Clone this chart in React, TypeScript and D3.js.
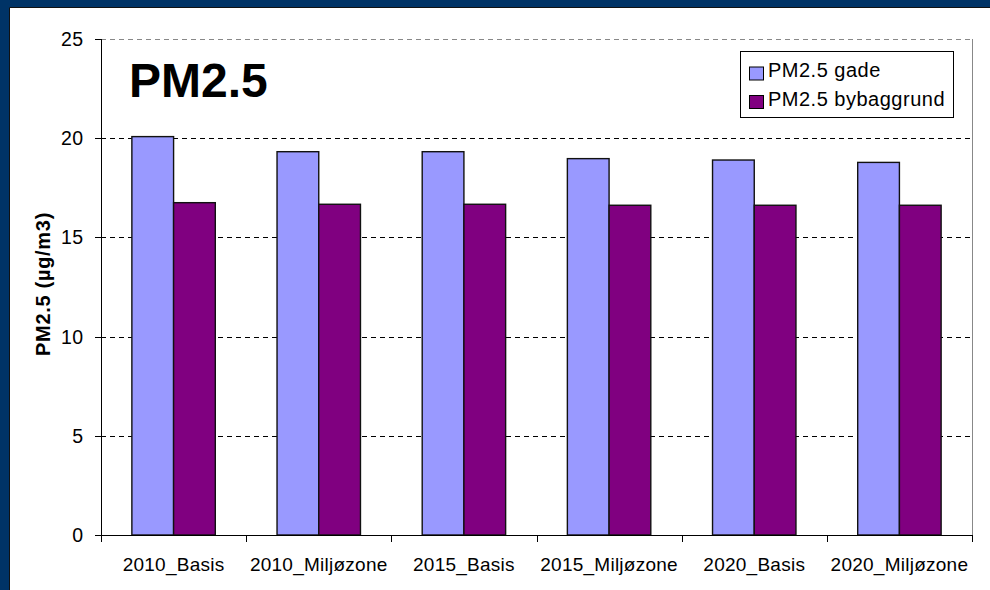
import React from "react";
import * as d3 from "d3";

const categories = ["2010_Basis", "2010_Miljøzone", "2015_Basis", "2015_Miljøzone", "2020_Basis", "2020_Miljøzone"];
const seriesNames = ["PM2.5 gade", "PM2.5 bybaggrund"];
const gade = [20.08, 19.32, 19.32, 18.97, 18.9, 18.78];
const bybaggrund = [16.75, 16.67, 16.67, 16.62, 16.62, 16.62];
const yTicks = [0, 5, 10, 15, 20, 25];
const colors = ["#9999FF", "#800080"];

const W = 990, H = 590;
const plot = { left: 101, right: 972, top: 39, bottom: 535 };
const FONT = "'Liberation Sans', Arial, Helvetica, sans-serif";

export default function App() {
  const x0 = d3.scaleBand<string>().domain(categories).range([plot.left, plot.right]).padding(0);
  const x1 = d3.scaleBand<string>().domain(seriesNames).range([0, x0.bandwidth()]).paddingInner(0).paddingOuter(0.74);
  const y = d3.scaleLinear().domain([0, 25]).range([plot.bottom, plot.top]);
  const values = [gade, bybaggrund];
  const boundaries = categories.map((c) => x0(c) as number).concat([plot.right]);

  return (
    <svg width={W} height={H} style={{ position: "absolute", left: 0, top: 0 }} fontFamily={FONT}>
      <rect x={0} y={0} width={W} height={H} fill="#003366" />
      <rect x={10} y={8} width={W - 10} height={H - 8} fill="#ffffff" />
      <line x1={9.5} y1={8} x2={9.5} y2={H} stroke="#111" strokeWidth={1} />
      <line x1={9.5} y1={7.5} x2={W} y2={7.5} stroke="#111" strokeWidth={1} />

      {/* gridlines */}
      {yTicks.filter((t) => t > 0).map((t) => (
        <line key={"g" + t} x1={plot.left} x2={plot.right} y1={Math.round(y(t)) + 0.5} y2={Math.round(y(t)) + 0.5}
          stroke={t === 25 ? "#888" : "#000"} strokeWidth={1} strokeDasharray="5,4" />
      ))}
      {/* right border */}
      <line x1={plot.right + 0.5} x2={plot.right + 0.5} y1={plot.top} y2={plot.bottom} stroke="#888" strokeWidth={1} />

      {/* bars */}
      {categories.map((c, i) => (
        <g key={c} transform={`translate(${x0(c)},0)`}>
          {seriesNames.map((s, j) => (
            <rect key={s} x={x1(s)} y={y(values[j][i])} width={x1.bandwidth()} height={y(0) - y(values[j][i])}
              fill={colors[j]} stroke="#111" strokeWidth={1.4} />
          ))}
        </g>
      ))}

      {/* axes */}
      <line x1={plot.left + 0.5} x2={plot.left + 0.5} y1={plot.top} y2={plot.bottom} stroke="#000" strokeWidth={1} />
      <line x1={plot.left - 6} x2={plot.right + 1} y1={plot.bottom + 0.5} y2={plot.bottom + 0.5} stroke="#000" strokeWidth={1} />
      {yTicks.map((t) => (
        <g key={"t" + t}>
          <line x1={plot.left - 6} x2={plot.left} y1={Math.round(y(t)) + 0.5} y2={Math.round(y(t)) + 0.5} stroke="#000" />
          <text x={83.5} y={y(t) + 7} textAnchor="end" fontSize={19.5} letterSpacing={0.4} fill="#000">{t}</text>
        </g>
      ))}
      {boundaries.map((b, i) => (
        <line key={"xt" + i} x1={Math.round(b) + 0.5} x2={Math.round(b) + 0.5} y1={plot.bottom} y2={plot.bottom + 7} stroke="#000" />
      ))}
      {categories.map((c) => (
        <text key={"xl" + c} x={(x0(c) as number) + x0.bandwidth() / 2} y={571} textAnchor="middle" fontSize={19} letterSpacing={0.25} fill="#000">{c}</text>
      ))}

      {/* y label */}
      <text transform={`translate(50,${(plot.top + plot.bottom) / 2 - 3}) rotate(-90)`} textAnchor="middle" fontSize={20} fontWeight="bold" letterSpacing={0.7} fill="#000">PM2.5 (µg/m3)</text>

      {/* title */}
      <text x={129} y={97} fontSize={48} fontWeight="bold" fill="#000">PM2.5</text>

      {/* legend */}
      <rect x={740.5} y={51.5} width={213} height={66} fill="#fff" stroke="#000" strokeWidth={1} />
      {seriesNames.map((s, j) => (
        <g key={"lg" + s}>
          <rect x={749.5} y={67 + j * 28.5} width={14} height={13} fill={colors[j]} stroke="#000" strokeWidth={1} />
          <text x={768} y={77 + j * 28.5} fontSize={20} letterSpacing={0.5} fill="#000">{s}</text>
        </g>
      ))}
    </svg>
  );
}
